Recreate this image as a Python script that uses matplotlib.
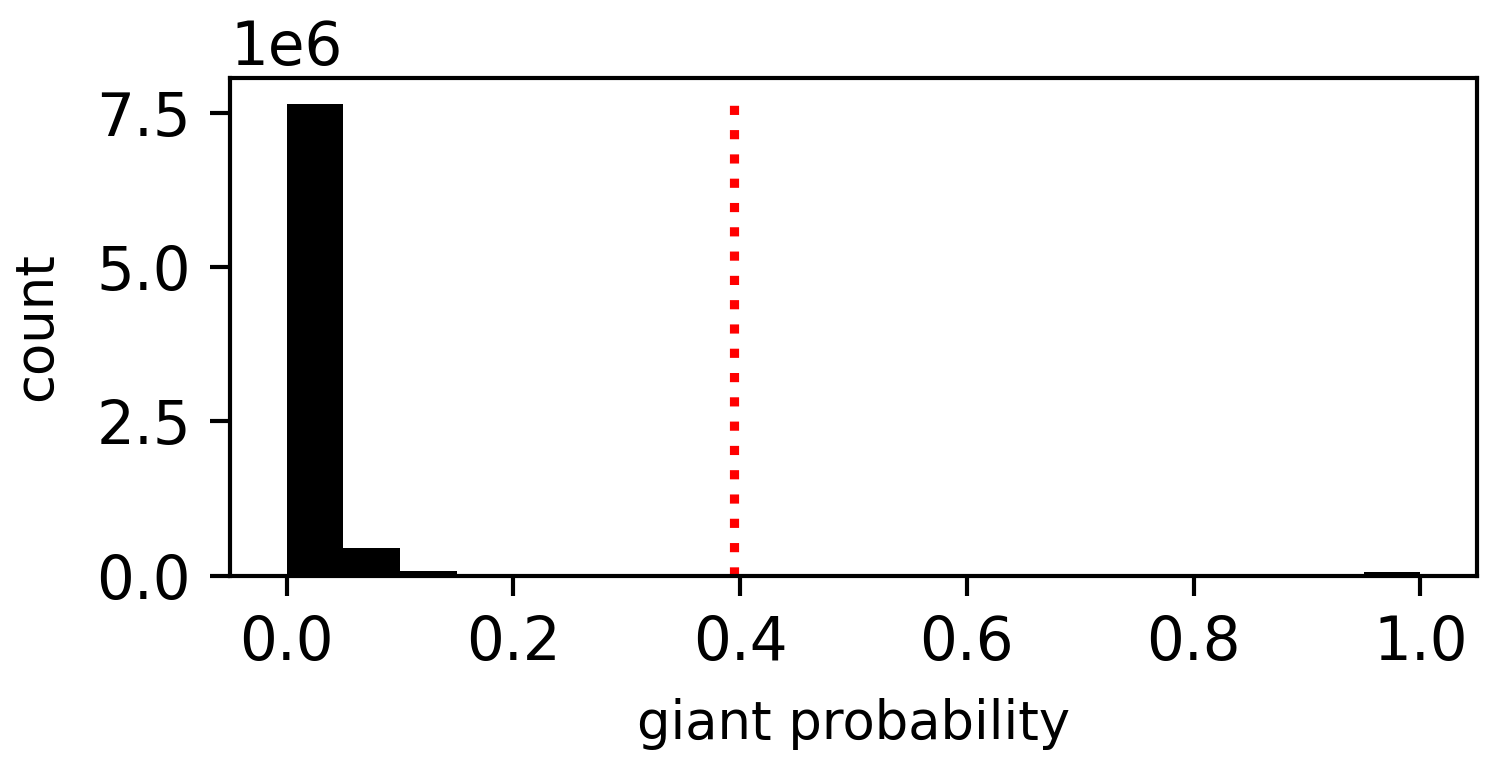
import numpy as np
import matplotlib
matplotlib.use('Agg')
import matplotlib.pyplot as plt

plt.rcParams['font.size'] = 12.7
plt.rcParams['xtick.labelsize'] = 14.3
plt.rcParams['ytick.labelsize'] = 14.3
plt.rcParams['axes.linewidth'] = 1.0
plt.rcParams['xtick.major.width'] = 1.0
plt.rcParams['ytick.major.width'] = 1.0
plt.rcParams['xtick.major.size'] = 4.8
plt.rcParams['ytick.major.size'] = 4.8
plt.rcParams['xtick.major.pad'] = 4.5
plt.rcParams['ytick.major.pad'] = 4.5

# 直方图分箱（20 个，0~1）和计数
bin_edges = np.linspace(0, 1, 21)
counts = [7.65e6, 0.44e6, 0.07e6, 0.015e6, 0.008e6, 0.005e6, 0.004e6, 0.003e6,
          0.002e6, 0.002e6, 0.002e6, 0.002e6, 0.002e6, 0.002e6, 0.002e6,
          0.002e6, 0.003e6, 0.004e6, 0.006e6, 0.058e6]
threshold = 0.395
line_top = 7.69e6

fig = plt.figure(figsize=(1495 / 300, 769 / 300), dpi=300)
ax = fig.add_axes([230 / 1495, 1 - 575.5 / 769, (1477 - 230) / 1495, (575.5 - 78) / 769])
ax.hist(bin_edges[:-1], bins=bin_edges, weights=counts, color='black')
ax.vlines(threshold, 0, line_top, colors='red', linestyles=':', linewidth=2.2)
ax.set_xlabel('giant probability', labelpad=6)
ax.set_ylabel('count', labelpad=8)
ax.set_xticks([0.0, 0.2, 0.4, 0.6, 0.8, 1.0])
ax.set_yticks([0.0, 2.5e6, 5.0e6, 7.5e6])

fig.savefig('out.png', dpi=300)
